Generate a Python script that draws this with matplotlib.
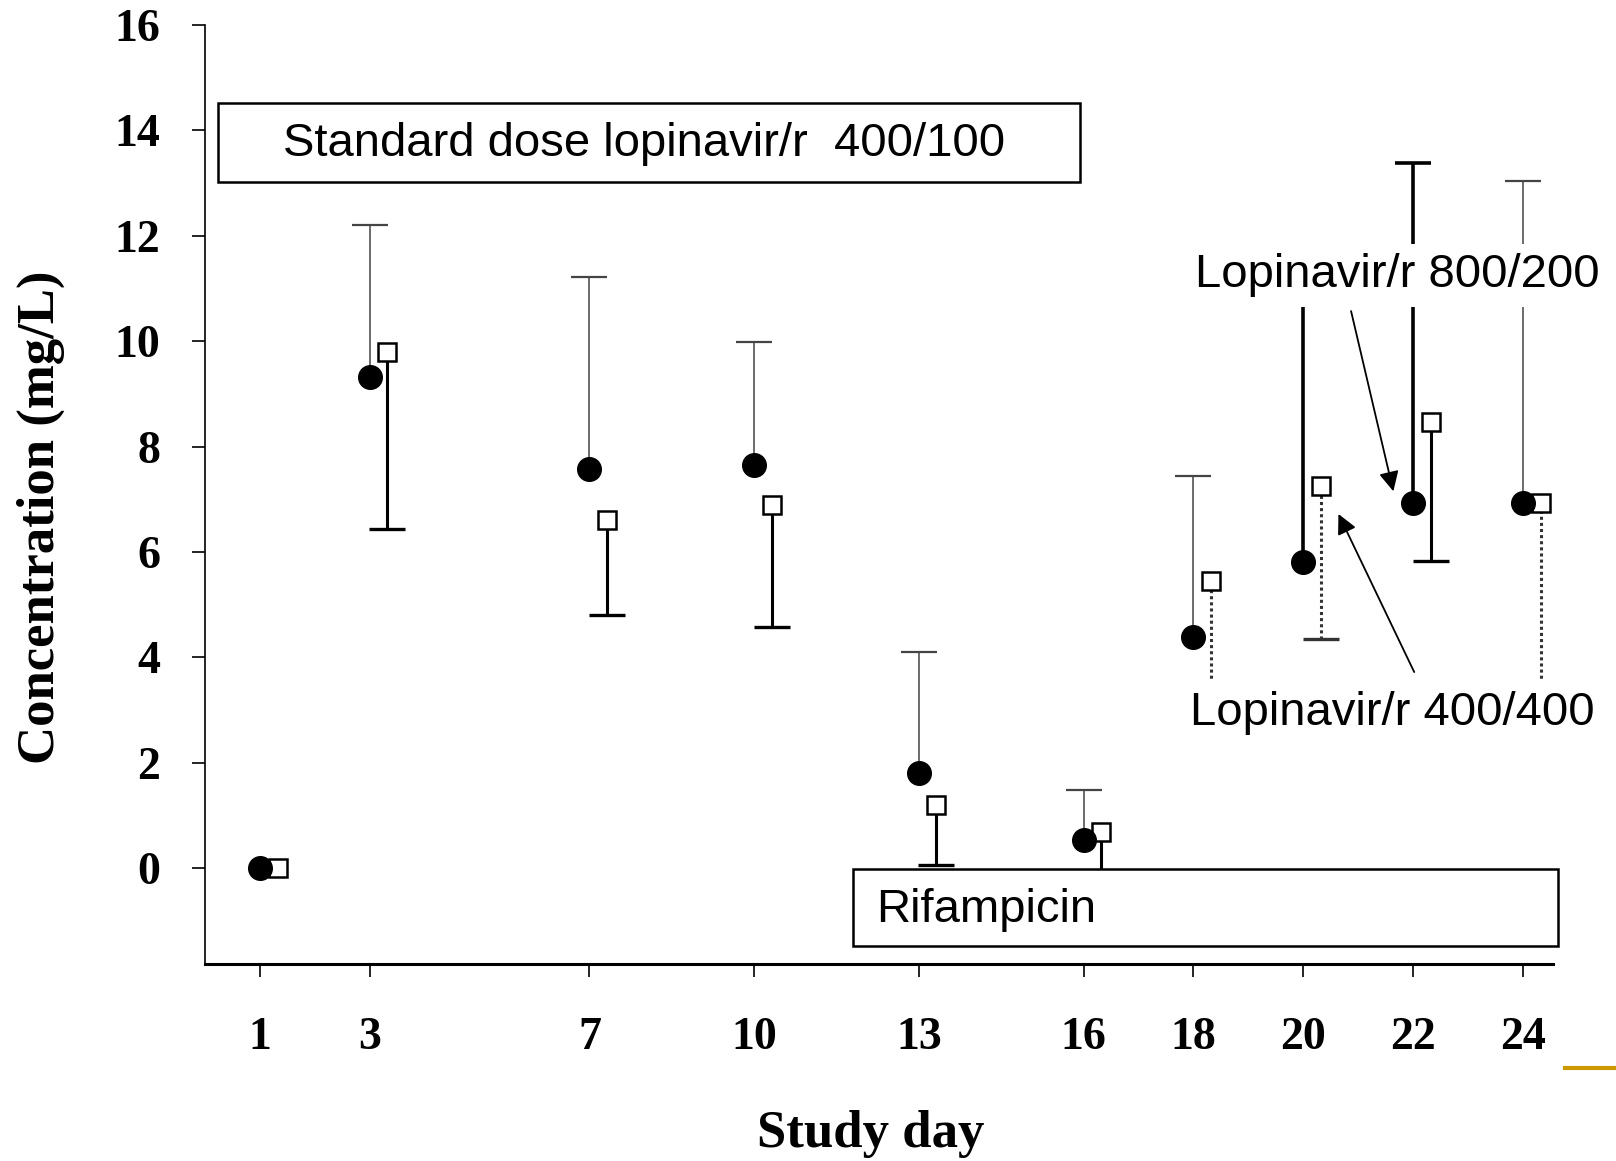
import matplotlib.pyplot as plt
from matplotlib.patches import Rectangle

# values (mg/L)
days = [1, 3, 7, 10, 13, 16, 18, 20, 22, 24]
circle_mean = [0.0, 9.32, 7.58, 7.64, 1.80, 0.53, 4.38, 5.80, 6.93, 6.93]
circle_upper = [0.0, 12.21, 11.21, 9.98, 4.10, 1.48, 7.44, 11.3, 13.38, 13.03]
square_mean = [0.0, 9.79, 6.60, 6.89, 1.19, 0.68, 5.45, 7.25, 8.46, 6.93]
square_lower = [0.0, 6.43, 4.80, 4.57, 0.06, -0.6, 2.8, 4.34, 5.82, 2.8]

yticks = [0, 2, 4, 6, 8, 10, 12, 14, 16]

# which bars are drawn heavy / dotted in the original
heavy_circle_days = [20, 22]
dotted_square_days = [18, 20, 24]
sq_offset = 0.32

serif = 'Liberation Serif'
sans = 'Liberation Sans'

fig = plt.figure(figsize=(16.16, 11.61), dpi=100)
ax = fig.add_axes([0.1269, 0.1697, 0.8342, 0.8088])

# error bars: circles get the upper half, squares the lower half
for d, m, up in zip(days, circle_mean, circle_upper):
    if up <= m:
        continue
    heavy = d in heavy_circle_days
    eb = ax.errorbar(d, m, yerr=[[0], [up - m]], fmt='none',
                     ecolor='black' if heavy else '#444444',
                     elinewidth=2.6 if heavy else 1.1,
                     capsize=13, capthick=2.6 if heavy else 1.6, zorder=2)
    eb[1][0].set_visible(False)   # no cap at the mean

for d, m, lo in zip(days, square_mean, square_lower):
    if lo >= m:
        continue
    dotted = d in dotted_square_days
    eb = ax.errorbar(d + sq_offset, m, yerr=[[m - lo], [0]], fmt='none',
                     ecolor='#333333' if dotted else 'black',
                     elinewidth=2.2, capsize=13, capthick=2.4, zorder=2)
    eb[1][1].set_visible(False)
    if dotted:
        eb[2][0].set_linestyle((0, (1, 1)))

ax.plot([d + sq_offset for d in days], square_mean, 's', ms=13,
        mfc='white', mec='black', mew=1.8, zorder=3)
ax.plot(days, circle_mean, 'o', ms=17, color='black', zorder=4)

# text boxes
ax.add_patch(Rectangle((0.235, 13.02), 15.94 - 0.235, 14.52 - 13.02,
                       facecolor='white', edgecolor='black', lw=1.8,
                       zorder=5, clip_on=False))
ax.text(1.42, 13.74, 'Standard dose lopinavir/r  400/100', fontsize=34,
        family=sans, va='center', ha='left', zorder=6)

ax.add_patch(Rectangle((11.80, -1.48), 24.64 - 11.80, 1.46,
                       facecolor='white', edgecolor='black', lw=1.8,
                       zorder=5, clip_on=False))
ax.text(12.22, -0.80, 'Rifampicin', fontsize=34, family=sans,
        va='center', ha='left', zorder=6)

ax.text(18.03, 11.25, 'Lopinavir/r 800/200', fontsize=34, family=sans,
        va='center', ha='left', zorder=6, clip_on=False,
        bbox=dict(boxstyle='square,pad=0.2', fc='white', ec='none'))
ax.text(17.94, 2.94, 'Lopinavir/r 400/400', fontsize=34, family=sans,
        va='center', ha='left', zorder=6, clip_on=False,
        bbox=dict(boxstyle='square,pad=0.25', fc='white', ec='none'))

ax.annotate('', xy=(21.64, 7.15), xytext=(20.87, 10.57),
            arrowprops=dict(arrowstyle='-|>', mutation_scale=30, lw=1.3,
                            color='black', shrinkA=0, shrinkB=0), zorder=6)
ax.annotate('', xy=(20.64, 6.72), xytext=(22.02, 3.72),
            arrowprops=dict(arrowstyle='-|>', mutation_scale=30, lw=1.3,
                            color='black', shrinkA=0, shrinkB=0), zorder=6)

# axes
ax.set_xlim(0, 24.55)
ax.set_ylim(-1.82, 16)
ax.spines['top'].set_visible(False)
ax.spines['right'].set_visible(False)
ax.spines['left'].set_linewidth(1.2)
ax.spines['bottom'].set_linewidth(2.2)
ax.set_xticks(days)
ax.set_yticks(yticks)
ax.tick_params(axis='both', direction='out', length=9.5, width=1.2)
ax.tick_params(axis='x', pad=29)
ax.tick_params(axis='y', pad=23)
for lab in ax.get_xticklabels() + ax.get_yticklabels():
    lab.set_fontfamily(serif)
    lab.set_fontweight('bold')
    lab.set_fontsize(33)

ax.set_xlabel('Study day', fontsize=38, family=serif, fontweight='bold')
ax.set_ylabel('Concentration (mg/L)', fontsize=38, family=serif, fontweight='bold')
ax.xaxis.set_label_coords(0.494, -0.181)
ax.xaxis.label.set_verticalalignment('center')
ax.yaxis.set_label_coords(-0.1217, 0.476)
ax.yaxis.label.set_verticalalignment('center')

# slide template accent in the corner
fig.add_artist(plt.Line2D([1565 / 1616, 1.0], [1 - 1068 / 1161] * 2,
                          color='#CC9900', lw=3))

fig.savefig('out.png', dpi=100)
